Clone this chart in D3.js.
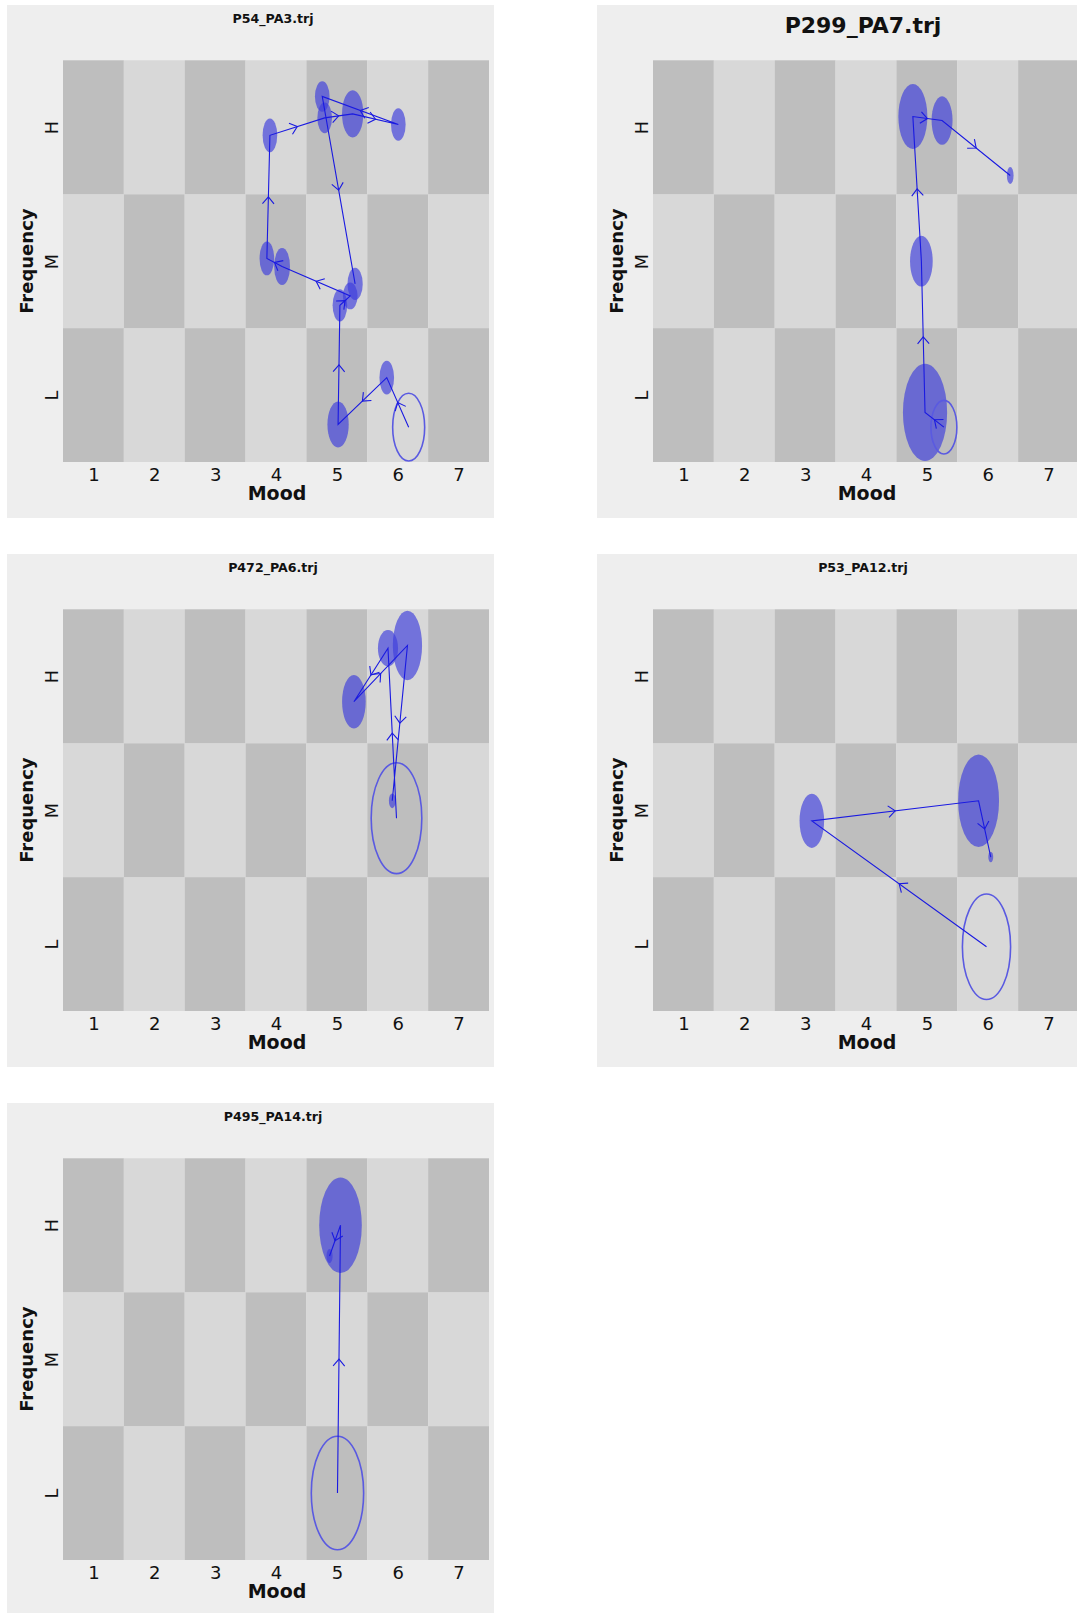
<!DOCTYPE html>
<html>
<head>
<meta charset="utf-8">
<script src="https://cdn.jsdelivr.net/npm/d3@7"></script>
<style>
  html, body { margin: 0; padding: 0; background: #ffffff; }
  svg { display: block; }
  text { font-family: "DejaVu Sans", "Lucida Grande", sans-serif; fill: #111; }
</style>
</head>
<body>
<svg id="chart" width="1077" height="1613"></svg>
<script>
// ---------------- DATA ----------------
// Axis categories
const moodTicks = [1, 2, 3, 4, 5, 6, 7];
const freqTicks = [1, 2, 3];
const freqLabels = ["L", "M", "H"];

// Panel titles
const panelTitles = ["P54_PA3.trj", "P299_PA7.trj", "P472_PA6.trj", "P53_PA12.trj", "P495_PA14.trj"];

// Trajectories: each row = [mood, frequency, spread in mood, spread in frequency]
// first row = starting state (open ellipse), last row = final state
const trajP54 = [
  [6.18, 0.76, 0.263, 0.253],
  [5.82, 1.13, 0.120, 0.126],
  [5.02, 0.78, 0.175, 0.172],
  [5.05, 1.67, 0.120, 0.121],
  [5.22, 1.74, 0.120, 0.100],
  [4.10, 1.96, 0.130, 0.139],
  [3.85, 2.02, 0.120, 0.126],
  [3.90, 2.94, 0.120, 0.126],
  [4.80, 3.07, 0.120, 0.114],
  [5.26, 3.10, 0.175, 0.177],
  [6.01, 3.02, 0.120, 0.121],
  [4.76, 3.23, 0.120, 0.114],
  [5.30, 1.83, 0.125, 0.121]
];
const trajP299 = [
  [5.28, 0.76, 0.213, 0.200],
  [4.97, 0.87, 0.363, 0.363],
  [4.91, 2.00, 0.186, 0.190],
  [4.77, 3.08, 0.238, 0.243],
  [5.25, 3.05, 0.172, 0.181],
  [6.37, 2.64, 0.055, 0.063]
];
const trajP472 = [
  [5.98, 1.94, 0.416, 0.414],
  [5.84, 3.21, 0.165, 0.136],
  [5.28, 2.81, 0.194, 0.200],
  [6.16, 3.23, 0.240, 0.260],
  [5.91, 2.07, 0.055, 0.055]
];
const trajP53 = [
  [5.98, 0.98, 0.396, 0.394],
  [3.11, 1.92, 0.202, 0.202],
  [5.85, 2.07, 0.336, 0.345],
  [6.05, 1.65, 0.040, 0.040]
];
const trajP495 = [
  [5.01, 1.00, 0.430, 0.424],
  [5.06, 3.00, 0.350, 0.357],
  [4.88, 2.77, 0.050, 0.053]
];
const trajectories = [trajP54, trajP299, trajP472, trajP53, trajP495];

// ---------------- LAYOUT ----------------
const panelPos = [[7, 5], [597, 5], [7, 554], [597, 554], [7, 1103]];
const panelW = 487, panelH = 513;
const plotL = 56, plotT = 55.3, plotW = 426, plotH = 401.7;
const titleSizes = [12.6, 22, 12.6, 12.6, 12.6];
const titleY = [13, 20.5, 13, 13, 13];

const svg = d3.select("#chart");
const x = d3.scaleLinear().domain([0.5, 7.5]).range([0, plotW]);
const y = d3.scaleLinear().domain([0.5, 3.5]).range([plotH, 0]);

const cells = [];
moodTicks.forEach(m => freqTicks.forEach(f => cells.push({ m, f })));

trajectories.forEach((traj, i) => {
  const g = svg.append("g").attr("transform", `translate(${panelPos[i][0]},${panelPos[i][1]})`);
  g.append("rect").attr("width", panelW).attr("height", panelH).attr("fill", "#eeeeee");

  g.append("text")
    .attr("x", plotL + plotW / 2 - 3)
    .attr("y", titleY[i] + titleSizes[i] * 0.36)
    .attr("text-anchor", "middle")
    .attr("font-weight", "bold")
    .attr("font-size", titleSizes[i])
    .text(panelTitles[i]);

  const p = g.append("g").attr("transform", `translate(${plotL},${plotT})`);

  // checkerboard
  p.selectAll("rect.cell").data(cells).enter().append("rect")
    .attr("class", "cell")
    .attr("x", d => x(d.m - 0.5))
    .attr("y", d => y(d.f + 0.5))
    .attr("width", d => x(d.m + 0.5) - x(d.m - 0.5))
    .attr("height", d => y(d.f - 0.5) - y(d.f + 0.5))
    .attr("fill", d => ((d.m + d.f) % 2 === 0) ? "#bebebe" : "#d8d8d8");

  // x axis
  const xa = p.append("g").attr("transform", `translate(0,${plotH})`)
    .call(d3.axisBottom(x).tickValues(moodTicks).tickSize(0).tickFormat(d3.format("d")));
  xa.select(".domain").remove();
  xa.selectAll("text").attr("y", 18.6).attr("dy", null)
    .attr("font-size", 18).attr("font-family", "DejaVu Sans").attr("fill", "#1a1a1a");

  // y axis
  const ya = p.append("g")
    .call(d3.axisLeft(y).tickValues(freqTicks).tickSize(0).tickFormat((d, k) => freqLabels[k]));
  ya.select(".domain").remove();
  ya.selectAll("text").attr("x", null).attr("dy", null)
    .attr("transform", "translate(-5,0) rotate(-90)")
    .attr("text-anchor", "middle")
    .attr("font-size", 17.5).attr("font-family", "DejaVu Sans").attr("fill", "#1a1a1a");

  // axis titles
  p.append("text")
    .attr("x", plotW / 2 + 1).attr("y", plotH + 38.5)
    .attr("text-anchor", "middle").attr("font-weight", "bold").attr("font-size", 19)
    .text("Mood");
  p.append("text")
    .attr("transform", `translate(-30,${plotH / 2}) rotate(-90)`)
    .attr("text-anchor", "middle").attr("font-weight", "bold").attr("font-size", 18)
    .text("Frequency");

  // filled ellipses (states after the start)
  p.selectAll("ellipse.state").data(traj.slice(1)).enter().append("ellipse")
    .attr("class", "state")
    .attr("cx", d => x(d[0])).attr("cy", d => y(d[1]))
    .attr("rx", d => x(d[0] + d[2]) - x(d[0]))
    .attr("ry", d => y(d[1] - d[3]) - y(d[1]))
    .attr("fill", "rgb(60,60,220)").attr("fill-opacity", 0.66);

  // starting state: open ellipse
  const s = traj[0];
  p.append("ellipse")
    .attr("cx", x(s[0])).attr("cy", y(s[1]))
    .attr("rx", x(s[0] + s[2]) - x(s[0]))
    .attr("ry", y(s[1] - s[3]) - y(s[1]))
    .attr("fill", "none").attr("stroke", "rgb(90,90,225)").attr("stroke-width", 1.6);

  // path
  const line = d3.line().x(d => x(d[0])).y(d => y(d[1]));
  p.append("path").datum(traj).attr("d", line)
    .attr("fill", "none").attr("stroke", "rgb(25,25,225)").attr("stroke-width", 1.1);

  // arrows at midpoints
  const segs = d3.pairs(traj);
  const armLen = 9, half = 40 * Math.PI / 180;
  p.selectAll("path.arrow").data(segs).enter().append("path")
    .attr("class", "arrow")
    .attr("d", ([a, b]) => {
      const x0 = x(a[0]), y0 = y(a[1]), x1 = x(b[0]), y1 = y(b[1]);
      const mx = (x0 + x1) / 2, my = (y0 + y1) / 2;
      const ang = Math.atan2(y1 - y0, x1 - x0);
      const p1 = [mx - armLen * Math.cos(ang - half), my - armLen * Math.sin(ang - half)];
      const p2 = [mx - armLen * Math.cos(ang + half), my - armLen * Math.sin(ang + half)];
      return `M${p1[0]},${p1[1]}L${mx},${my}L${p2[0]},${p2[1]}`;
    })
    .attr("fill", "none").attr("stroke", "rgb(25,25,225)").attr("stroke-width", 1.1);
});
</script>
</body>
</html>
